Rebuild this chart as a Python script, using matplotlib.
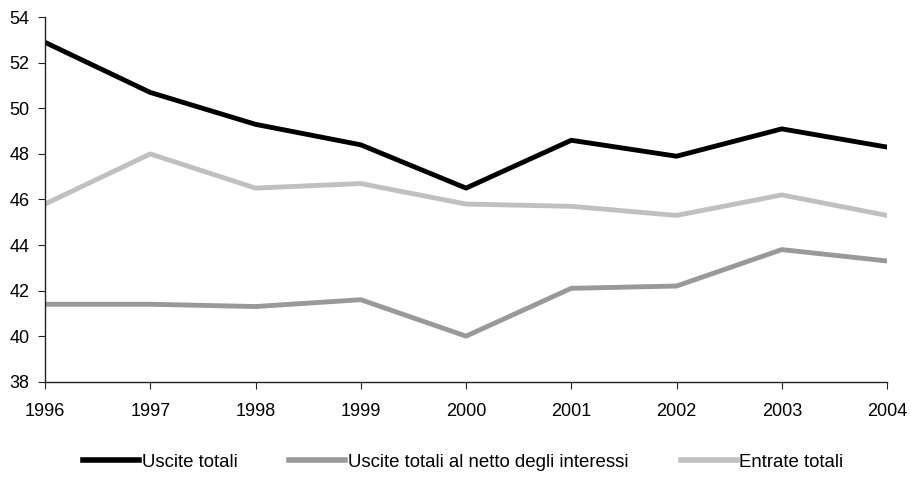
import numpy as np
import matplotlib.pyplot as plt

plt.rcParams['font.family'] = ['Liberation Sans', 'DejaVu Sans']

years = [1996, 1997, 1998, 1999, 2000, 2001, 2002, 2003, 2004]
uscite = [52.9, 50.7, 49.3, 48.4, 46.5, 48.6, 47.9, 49.1, 48.3]
uscite_netto = [41.4, 41.4, 41.3, 41.6, 40.0, 42.1, 42.2, 43.8, 43.3]
entrate = [45.8, 48.0, 46.5, 46.7, 45.8, 45.7, 45.3, 46.2, 45.3]

fig = plt.figure(figsize=(9.11, 4.8), dpi=100)
ax = fig.add_axes([0.0494, 0.2048, 0.9243, 0.7592])

ax.plot(years, uscite, color='black', lw=3.5, label='Uscite totali')
ax.plot(years, uscite_netto, color='#999999', lw=3.5, label='Uscite totali al netto degli interessi')
ax.plot(years, entrate, color='#c0c0c0', lw=3.5, label='Entrate totali')

ax.set_xlim(1996, 2004)
ax.set_ylim(38, 54)
ax.set_xticks(years)
ax.set_yticks(np.arange(38, 55, 2))
ax.spines['top'].set_visible(False)
ax.spines['right'].set_visible(False)
for s in ['left', 'bottom']:
    ax.spines[s].set_color('#222222')
    ax.spines[s].set_linewidth(1)
ax.tick_params(axis='both', labelsize=13, length=5, color='#222222')
ax.tick_params(axis='y', pad=6)
ax.tick_params(axis='x', pad=10)

leg = ax.legend(loc='center left', bbox_to_anchor=(83 / 911, 1 - 462 / 480),
                bbox_transform=fig.transFigure, ncol=3, frameon=False, fontsize=13.4,
                handlelength=3.0, handletextpad=0.15, columnspacing=2.8,
                borderaxespad=0, borderpad=0)
for line in leg.get_lines():
    line.set_linewidth(4)

fig.savefig('out.png', dpi=100)
